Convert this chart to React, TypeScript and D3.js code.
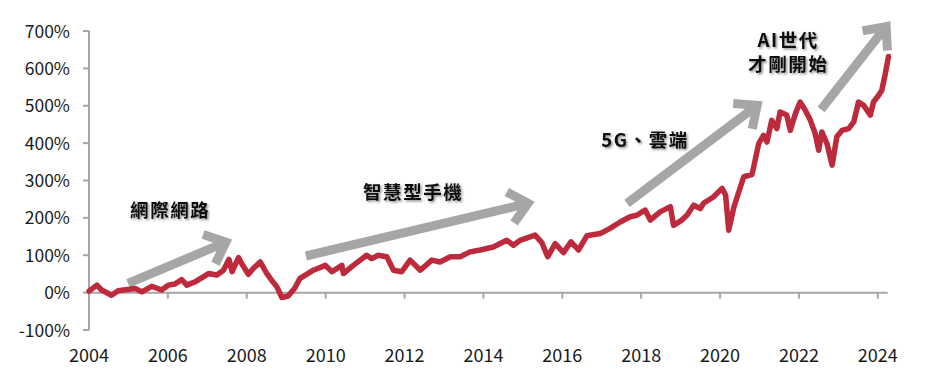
import { useEffect, useRef } from 'react';
import * as d3 from 'd3';

const W = 932, H = 374;
const margin = { left: 89, right: 44.3, top: 31, bottom: 44 };

const yTicks = [-100, 0, 100, 200, 300, 400, 500, 600, 700];
const xTicks = [2004, 2006, 2008, 2010, 2012, 2014, 2016, 2018, 2020, 2022, 2024];

// decimal year
const years = [
  2004.00, 2004.20, 2004.32, 2004.57, 2004.74, 2005.17, 2005.34, 2005.59, 2005.84, 2006.01,
  2006.18, 2006.35, 2006.48, 2006.69, 2007.03, 2007.24, 2007.41, 2007.55, 2007.63, 2007.79,
  2007.87, 2008.04, 2008.17, 2008.34, 2008.51, 2008.63, 2008.76, 2008.89, 2009.05, 2009.21,
  2009.35, 2009.69, 2009.99, 2010.16, 2010.41, 2010.45, 2010.70, 2011.04, 2011.17, 2011.33,
  2011.55, 2011.72, 2011.93, 2012.14, 2012.40, 2012.69, 2012.90, 2013.16, 2013.41, 2013.66,
  2013.92, 2014.25, 2014.59, 2014.76, 2014.93, 2015.31, 2015.48, 2015.63, 2015.82, 2016.03,
  2016.22, 2016.41, 2016.62, 2016.96, 2017.21, 2017.47, 2017.72, 2017.89, 2018.10, 2018.23,
  2018.48, 2018.74, 2018.82, 2019.03, 2019.16, 2019.33, 2019.50, 2019.58, 2019.83, 2020.05,
  2020.14, 2020.22, 2020.35, 2020.60, 2020.81, 2020.98, 2021.10, 2021.19, 2021.31, 2021.44,
  2021.52, 2021.69, 2021.78, 2021.91, 2022.03, 2022.16, 2022.29, 2022.41, 2022.50, 2022.58,
  2022.71, 2022.84, 2022.96, 2023.09, 2023.26, 2023.39, 2023.51, 2023.64, 2023.81, 2023.89,
  2024.02, 2024.10, 2024.19, 2024.27
];

// cumulative return, %
const returns = [
  4, 20, 7, -7, 5, 11, 2, 17, 7, 20,
  23, 35, 20, 29, 51, 47, 60, 89, 56, 94,
  78, 49, 65, 82, 51, 33, 16, -13, -9, 11,
  38, 60, 73, 56, 73, 51, 73, 100, 91, 100,
  96, 60, 56, 87, 60, 87, 82, 96, 96, 109,
  114, 122, 140, 127, 140, 154, 134, 96, 131, 107,
  136, 114, 152, 158, 172, 189, 203, 207, 221, 194,
  216, 230, 180, 194, 207, 234, 225, 239, 256, 279,
  261, 167, 229, 310, 316, 399, 421, 403, 461, 439,
  483, 475, 434, 479, 510, 488, 461, 426, 381, 430,
  399, 341, 417, 434, 439, 457, 510, 501, 475, 510,
  528, 541, 586, 632
];

// annotation arrows: [fromYear, fromValue, toYear, toValue]
const arrows = [
  [2004.99, 25, 2007.47, 135],
  [2009.50, 98, 2015.13, 239],
  [2017.64, 239, 2020.94, 501],
  [2022.56, 490, 2024.21, 712]
];

// annotation labels: [year, value, text]
const labels: [number, number, string][] = [
  [2006.06, 224, '網際網路'],
  [2012.22, 272, '智慧型手機'],
  [2018.10, 411, '5G、雲端'],
  [2021.73, 679, 'AI世代'],
  [2021.73, 615, '才剛開始']
];

const axisColor = '#a6a6a6';
const lineColor = '#bd2a3c';
const font = '"Noto Sans CJK TC", "Noto Sans", sans-serif';

export default function App() {
  const ref = useRef<SVGSVGElement>(null);

  useEffect(() => {
    const svg = d3.select(ref.current);
    svg.selectAll('*').remove();

    const x = d3.scaleLinear().domain([2004, 2024.25]).range([margin.left, W - margin.right]);
    const y = d3.scaleLinear().domain([-100, 700]).range([H - margin.bottom, margin.top]);

    const defs = svg.append('defs');
    const f = defs.append('filter').attr('id', 'shadow')
      .attr('x', '-20%').attr('y', '-30%').attr('width', '140%').attr('height', '160%');
    f.append('feDropShadow').attr('dx', 1.5).attr('dy', 1.5).attr('stdDeviation', 1.2)
      .attr('flood-color', '#000').attr('flood-opacity', 0.45);

    // y axis
    svg.append('line')
      .attr('x1', x(2004)).attr('x2', x(2004))
      .attr('y1', y(700)).attr('y2', y(-100))
      .attr('stroke', axisColor).attr('stroke-width', 2);
    svg.selectAll('.ytick').data(yTicks).enter().append('line')
      .attr('x1', x(2004) - 6).attr('x2', x(2004))
      .attr('y1', d => y(d)).attr('y2', d => y(d))
      .attr('stroke', axisColor).attr('stroke-width', 2);
    svg.selectAll('.ylab').data(yTicks).enter().append('text')
      .attr('x', 70).attr('y', d => y(d) + 6.5)
      .attr('text-anchor', 'end')
      .attr('font-family', font).attr('font-size', 17.5).attr('fill', '#1a1a1a')
      .text(d => d + '%');

    // x axis at 0%
    svg.append('line')
      .attr('x1', x(2004)).attr('x2', x(2024.25))
      .attr('y1', y(0)).attr('y2', y(0))
      .attr('stroke', axisColor).attr('stroke-width', 2);
    svg.selectAll('.xtick').data(xTicks).enter().append('line')
      .attr('x1', d => x(d)).attr('x2', d => x(d))
      .attr('y1', y(0)).attr('y2', y(0) + 6)
      .attr('stroke', axisColor).attr('stroke-width', 2);
    svg.selectAll('.xlab').data(xTicks).enter().append('text')
      .attr('x', d => x(d)).attr('y', 362)
      .attr('text-anchor', 'middle')
      .attr('font-family', font).attr('font-size', 18).attr('fill', '#1a1a1a')
      .text(d => d);

    // arrows
    arrows.forEach(a => {
      const x0 = x(a[0]), y0 = y(a[1]), x1 = x(a[2]), y1 = y(a[3]);
      const ang = Math.atan2(y1 - y0, x1 - x0);
      const L = 24, spread = 0.72;
      const w1 = [x1 - L * Math.cos(ang - spread), y1 - L * Math.sin(ang - spread)];
      const w2 = [x1 - L * Math.cos(ang + spread), y1 - L * Math.sin(ang + spread)];
      svg.append('path')
        .attr('d', `M${x0},${y0}L${x1},${y1}M${w1[0]},${w1[1]}L${x1},${y1}L${w2[0]},${w2[1]}`)
        .attr('fill', 'none').attr('stroke', axisColor)
        .attr('stroke-width', 9).attr('stroke-linejoin', 'miter');
    });

    // series line
    const pts = years.map((yr, i) => [yr, returns[i]] as [number, number]);
    svg.append('path')
      .datum(pts)
      .attr('d', d3.line<[number, number]>().x(d => x(d[0])).y(d => y(d[1])))
      .attr('fill', 'none').attr('stroke', lineColor)
      .attr('stroke-width', 5.5).attr('stroke-linejoin', 'round').attr('stroke-linecap', 'round');

    // labels
    svg.selectAll('.ann').data(labels).enter().append('text')
      .attr('x', d => x(d[0])).attr('y', d => y(d[1]))
      .attr('text-anchor', 'middle').attr('dominant-baseline', 'central')
      .attr('font-family', font).attr('font-size', 18.5).attr('font-weight', 700)
      .attr('letter-spacing', 1.6).attr('fill', '#111')
      .attr('filter', 'url(#shadow)')
      .text(d => d[2]);
  }, []);

  return (
    <svg ref={ref} width={W} height={H}
      style={{ position: 'absolute', left: 0, top: 0, background: '#fff' }} />
  );
}
